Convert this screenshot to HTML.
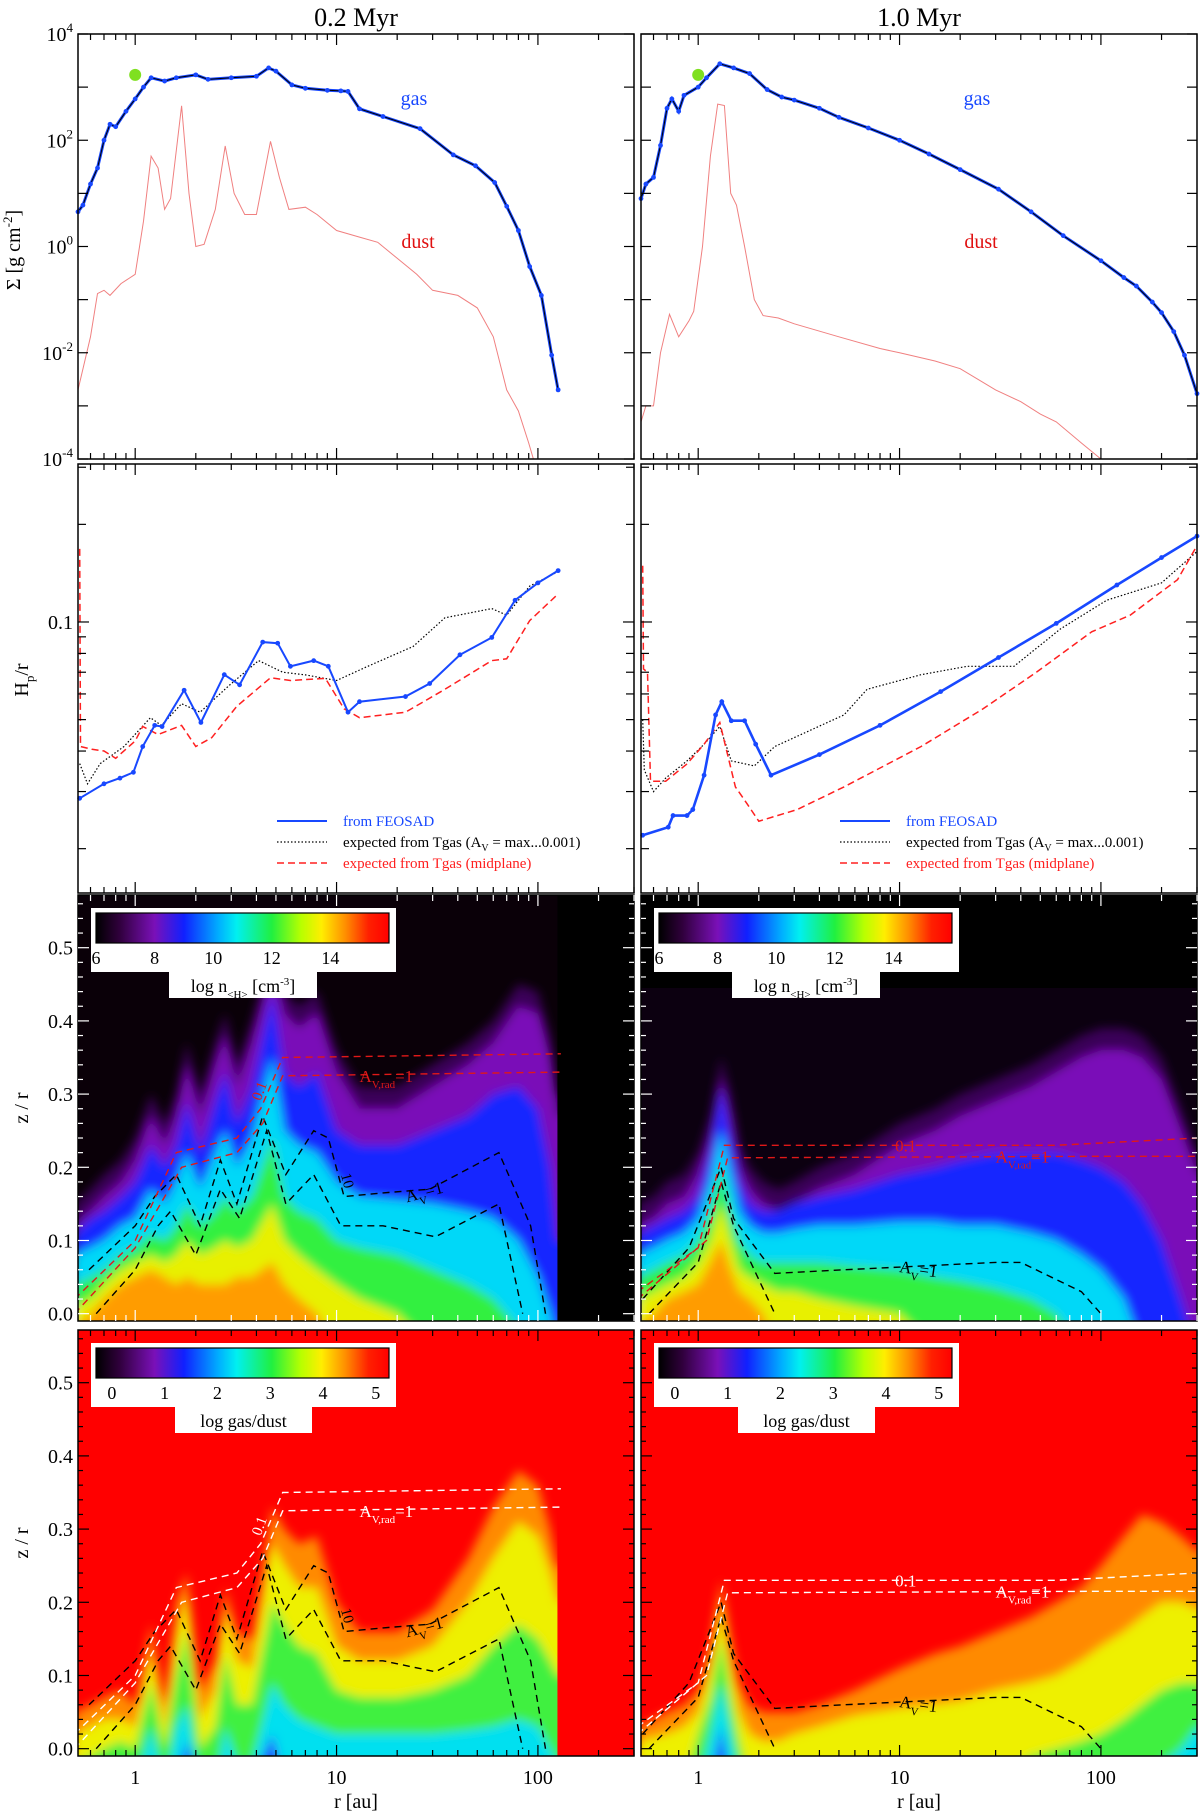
<!DOCTYPE html>
<html><head><meta charset="utf-8"><style>
html,body{margin:0;padding:0;background:#fff;}
svg{display:block;font-family:"Liberation Serif",serif;}
</style></head><body>
<svg id="fig" width="1200" height="1812" viewBox="0 0 1200 1812" xmlns="http://www.w3.org/2000/svg">
<defs>
<filter id="blur" x="-10%" y="-10%" width="120%" height="120%"><feGaussianBlur stdDeviation="5"/></filter>
<linearGradient id="cmap" x1="0" x2="1" y1="0" y2="0">
<stop offset="0" stop-color="#000000"/><stop offset="0.08" stop-color="#30003c"/><stop offset="0.2" stop-color="#7a10b8"/>
<stop offset="0.3" stop-color="#1020ff"/><stop offset="0.42" stop-color="#00b0ff"/><stop offset="0.48" stop-color="#00f0f0"/>
<stop offset="0.6" stop-color="#20f040"/><stop offset="0.7" stop-color="#b8ff00"/><stop offset="0.77" stop-color="#ffee00"/>
<stop offset="0.85" stop-color="#ff9000"/><stop offset="0.93" stop-color="#ff2000"/><stop offset="1" stop-color="#ff0000"/>
</linearGradient>
<clipPath id="cL3"><rect x="78" y="895" width="556" height="426"/></clipPath>
<clipPath id="cR3"><rect x="641" y="895" width="556" height="426"/></clipPath>
<clipPath id="cL4"><rect x="78" y="1330" width="556" height="426"/></clipPath>
<clipPath id="cR4"><rect x="641" y="1330" width="556" height="426"/></clipPath>
<clipPath id="cL1"><rect x="78" y="34" width="556" height="425"/></clipPath>
<clipPath id="cR1"><rect x="641" y="34" width="556" height="425"/></clipPath>
<clipPath id="cL2"><rect x="78" y="464" width="556" height="429"/></clipPath>
<clipPath id="cR2"><rect x="641" y="464" width="556" height="429"/></clipPath>
</defs>
<text x="356" y="26" font-size="26" text-anchor="middle">0.2 Myr</text>
<text x="919" y="26" font-size="26" text-anchor="middle">1.0 Myr</text>
</svg>
<script>
// ---------- row 1 : surface density ----------
const gasL_r=[0.52,0.55,0.6,0.65,0.7,0.75,0.8,0.9,1.0,1.1,1.2,1.4,1.6,2.0,2.3,3.0,4.0,4.6,5.0,6.0,7.0,9.0,10.5,11.4,13,17,26,38,49,61,70,80,91,104,117,126];
const gasL_s=[4.5,6,15,30,100,200,180,350,600,1000,1500,1300,1500,1700,1400,1500,1600,2300,2000,1100,950,870,850,830,390,280,165,53,33,16,5.7,2,0.42,0.12,0.009,0.002];
const dustL_r=[0.52,0.6,0.65,0.7,0.75,0.85,1.0,1.1,1.2,1.3,1.4,1.5,1.7,1.85,2.0,2.2,2.5,2.8,3.1,3.5,4.0,4.7,5.2,5.8,7,8,10,13,16,20,25,30,40,50,60,70,80,90,95];
const dustL_s=[0.002,0.02,0.13,0.15,0.12,0.2,0.3,3,50,30,5,8,445,10,1,1.1,5,78,10,4,4,95,20,5,5.5,4,2,1.5,1.2,0.6,0.3,0.15,0.12,0.07,0.02,0.002,0.0008,0.0002,0.0001];
const gasR_r=[0.52,0.55,0.6,0.65,0.7,0.74,0.8,0.85,1.0,1.1,1.28,1.5,1.8,2.2,2.6,3,4,5,7,10,14,20,31,45,65,100,130,150,180,200,230,260,300];
const gasR_s=[8,15,20,80,400,600,350,700,1000,1500,2750,2300,1800,900,650,570,400,270,170,100,55,28,12,4.5,1.6,0.54,0.26,0.18,0.09,0.057,0.025,0.009,0.0017];
const dustR_r=[0.52,0.55,0.6,0.65,0.72,0.8,0.9,0.95,1.05,1.15,1.25,1.35,1.45,1.55,1.7,1.9,2.1,2.5,3,5,8,10,15,20,30,40,50,60,80,100];
const dustR_s=[0.0005,0.001,0.001,0.01,0.053,0.02,0.04,0.06,1,50,480,450,10,6,1,0.1,0.05,0.045,0.035,0.02,0.012,0.01,0.007,0.005,0.002,0.0012,0.0007,0.0005,0.0002,0.0001];
const ymarker_r=[1.0], ymarker_s=[1700];
// ---------- row 2 : Hp/r ----------
const hpL_r=[0.53,0.70,0.84,0.98,1.09,1.25,1.36,1.75,2.12,2.77,3.3,4.3,5.1,5.9,7.7,9.1,11.4,13,22,29,41,59,77,100,126];
const hpL_v=[0.0286,0.0317,0.033,0.0344,0.0413,0.048,0.0476,0.0616,0.049,0.0688,0.064,0.0867,0.086,0.073,0.076,0.073,0.0527,0.0568,0.0589,0.0646,0.0792,0.0896,0.1167,0.132,0.144];
const tgL_r=[0.53,0.58,0.67,0.88,1.19,1.35,1.7,2.1,2.9,4.1,5.4,7,10,14.3,24,34.5,59,70,91,126];
const tgL_v=[0.0366,0.0317,0.0366,0.0413,0.0507,0.048,0.056,0.0527,0.0634,0.076,0.070,0.0687,0.066,0.073,0.084,0.103,0.11,0.105,0.129,0.143];
const tmL_r=[0.53,0.535,0.61,0.7,0.8,1.0,1.09,1.3,1.7,2.0,2.4,3.2,4.7,5.9,8.8,10.9,13,22,34.5,59,70,91,126];
const tmL_v=[0.168,0.0413,0.0405,0.040,0.038,0.043,0.0476,0.045,0.048,0.0413,0.044,0.055,0.0673,0.066,0.067,0.054,0.0507,0.0527,0.062,0.076,0.077,0.101,0.122];
const hpR_r=[0.53,0.71,0.75,0.88,0.94,1.07,1.22,1.31,1.46,1.7,1.93,2.3,4,8,16,31,60,120,200,300];
const hpR_v=[0.022,0.0233,0.0253,0.0253,0.0264,0.0337,0.0517,0.0568,0.0496,0.0496,0.042,0.0337,0.039,0.048,0.061,0.0777,0.099,0.13,0.158,0.184];
const tgR_r=[0.53,0.54,0.6,0.69,0.88,1.07,1.28,1.46,1.9,2.4,5.3,6.9,12.8,21.7,37,63,107,200,300];
const tgR_v=[0.05,0.035,0.030,0.033,0.0373,0.042,0.0476,0.0373,0.036,0.0413,0.0517,0.062,0.0688,0.073,0.073,0.0952,0.1167,0.132,0.165];
const tmR_r=[0.53,0.535,0.56,0.58,0.69,0.88,1.07,1.28,1.53,1.75,2.0,3.1,5.3,12.8,26,48,90,140,240,300];
const tmR_v=[0.149,0.0716,0.070,0.0323,0.0323,0.0365,0.042,0.049,0.031,0.0275,0.0243,0.0264,0.031,0.0413,0.054,0.0701,0.0933,0.105,0.135,0.172];
// ---------- rows 3/4 : 2D maps (contour-level heights z/r) ----------
const gridL=[0.5,0.6,0.7,0.85,1,1.2,1.4,1.6,1.8,2.1,2.5,2.8,3.2,3.8,4.8,5.5,6.5,8,10,13,20,30,45,60,80,100,115,125];
const nL_env=[0.15,0.17,0.19,0.21,0.24,0.30,0.26,0.30,0.37,0.30,0.37,0.41,0.34,0.40,0.50,0.44,0.42,0.44,0.36,0.31,0.31,0.34,0.37,0.40,0.45,0.44,0.38,0.30];
const nL_blue=[0.11,0.13,0.14,0.16,0.18,0.23,0.2,0.23,0.29,0.22,0.29,0.33,0.26,0.31,0.44,0.33,0.31,0.33,0.25,0.23,0.23,0.25,0.27,0.3,0.31,0.28,0.2,0.1];
const nL_cyan=[0.08,0.09,0.10,0.12,0.13,0.17,0.15,0.18,0.22,0.17,0.22,0.25,0.2,0.24,0.35,0.25,0.23,0.22,0.18,0.16,0.155,0.15,0.14,0.13,0.1,0.05,0.0,-0.05];
const nL_green=[0.04,0.05,0.06,0.08,0.09,0.11,0.1,0.12,0.15,0.12,0.14,0.16,0.14,0.16,0.24,0.16,0.14,0.13,0.1,0.09,0.08,0.06,0.04,0.02,-0.02,-0.05,-0.05,-0.05];
const nL_yellow=[0.01,0.02,0.04,0.06,0.07,0.08,0.07,0.08,0.1,0.08,0.09,0.1,0.09,0.1,0.15,0.1,0.08,0.06,0.04,0.02,0.0,-0.05,-0.05,-0.05,-0.05,-0.05,-0.05,-0.05];
const nL_orange=[-0.02,0.0,0.02,0.04,0.05,0.06,0.05,0.04,0.05,0.04,0.04,0.04,0.05,0.05,0.07,0.04,0.02,0.0,-0.05,-0.05,-0.05,-0.05,-0.05,-0.05,-0.05,-0.05,-0.05,-0.05];
const gridR=[0.5,0.6,0.7,0.85,1,1.15,1.3,1.45,1.6,1.8,2.1,2.5,3,4,6,10,15,20,30,45,60,80,100,130,160,200,250,300];
const nR_env=[0.15,0.16,0.18,0.19,0.22,0.27,0.35,0.3,0.23,0.2,0.18,0.17,0.18,0.2,0.22,0.26,0.28,0.3,0.32,0.34,0.36,0.38,0.39,0.39,0.38,0.35,0.28,0.22];
const nR_blue=[0.11,0.12,0.13,0.14,0.16,0.22,0.31,0.24,0.18,0.15,0.14,0.14,0.15,0.16,0.17,0.19,0.2,0.21,0.22,0.22,0.22,0.21,0.2,0.18,0.15,0.1,0.02,-0.05];
const nR_cyan=[0.08,0.09,0.1,0.11,0.13,0.18,0.25,0.19,0.14,0.12,0.11,0.11,0.115,0.12,0.12,0.125,0.125,0.12,0.12,0.11,0.1,0.08,0.06,0.02,-0.05,-0.05,-0.05,-0.05];
const nR_green=[0.05,0.06,0.07,0.08,0.1,0.14,0.2,0.14,0.1,0.08,0.07,0.07,0.07,0.07,0.065,0.06,0.05,0.045,0.035,0.02,0.0,-0.05,-0.05,-0.05,-0.05,-0.05,-0.05,-0.05];
const nR_yellow=[0.02,0.03,0.04,0.05,0.07,0.1,0.15,0.1,0.06,0.05,0.04,0.03,0.03,0.02,0.01,0.0,-0.05,-0.05,-0.05,-0.05,-0.05,-0.05,-0.05,-0.05,-0.05,-0.05,-0.05,-0.05];
const nR_orange=[-0.02,0.0,0.02,0.03,0.04,0.07,0.1,0.06,0.03,0.02,0.0,-0.05,-0.05,-0.05,-0.05,-0.05,-0.05,-0.05,-0.05,-0.05,-0.05,-0.05,-0.05,-0.05,-0.05,-0.05,-0.05,-0.05];
const gL_orange=[0.05,0.06,0.07,0.08,0.06,0.17,0.06,0.2,0.24,0.08,0.12,0.22,0.16,0.15,0.33,0.3,0.28,0.29,0.2,0.16,0.16,0.19,0.26,0.33,0.38,0.36,0.3,0.25];
const gL_yellow=[0.02,0.03,0.04,0.04,0.03,0.13,0.03,0.15,0.21,0.04,0.08,0.19,0.12,0.11,0.28,0.25,0.22,0.22,0.14,0.12,0.12,0.14,0.2,0.26,0.31,0.29,0.24,0.2];
const gL_green=[-0.02,-0.01,0.0,0.01,0.0,0.09,0.0,0.1,0.16,0.0,0.03,0.13,0.06,0.06,0.2,0.17,0.14,0.13,0.08,0.07,0.07,0.08,0.1,0.14,0.17,0.15,0.12,0.1];
const gL_cyan=[-0.05,-0.05,-0.05,-0.05,-0.05,0.03,-0.05,0.03,0.06,-0.05,-0.05,0.03,-0.02,-0.02,0.09,0.06,0.04,0.03,0.02,0.02,0.02,0.02,0.025,0.03,0.04,0.03,0.0,-0.02];
const gL_blue=[-0.05,-0.05,-0.05,-0.05,-0.05,-0.05,-0.05,-0.05,0.01,-0.05,-0.05,-0.05,-0.05,-0.05,0.02,-0.05,-0.05,-0.05,-0.05,-0.05,-0.05,-0.05,-0.05,-0.05,-0.05,-0.05,-0.05,-0.05];
const gR_orange=[0.03,0.04,0.05,0.06,0.08,0.14,0.23,0.15,0.09,0.06,0.05,0.05,0.05,0.06,0.08,0.11,0.13,0.14,0.16,0.18,0.2,0.22,0.25,0.29,0.32,0.31,0.29,0.27];
const gR_yellow=[0.01,0.015,0.02,0.03,0.05,0.11,0.2,0.11,0.05,0.02,0.01,0.01,0.02,0.03,0.045,0.055,0.06,0.065,0.08,0.09,0.1,0.12,0.14,0.16,0.18,0.2,0.2,0.19];
const gR_green=[-0.05,-0.05,-0.05,-0.05,0.02,0.07,0.15,0.07,0.01,-0.05,-0.05,-0.05,-0.05,-0.05,-0.05,-0.05,-0.05,-0.05,-0.04,-0.01,0.0,0.01,0.02,0.04,0.06,0.08,0.09,0.09];
const gR_cyan=[-0.05,-0.05,-0.05,-0.05,-0.05,0.02,0.09,0.02,-0.05,-0.05,-0.05,-0.05,-0.05,-0.05,-0.05,-0.05,-0.05,-0.05,-0.05,-0.05,-0.05,-0.05,-0.05,-0.05,-0.05,-0.02,0.0,0.03];
const gR_blue=[-0.05,-0.05,-0.05,-0.05,-0.05,-0.05,0.03,-0.05,-0.05,-0.05,-0.05,-0.05,-0.05,-0.05,-0.05,-0.05,-0.05,-0.05,-0.05,-0.05,-0.05,-0.05,-0.05,-0.05,-0.05,-0.05,-0.05,-0.05];
// contour lines
const cL_av1_r=[0.59,1,1.25,1.6,2.1,2.65,3.2,4.3,5.6,7.7,9.1,10.9,17,29,64,92,109];
const cL_av1_z=[0.06,0.12,0.16,0.19,0.12,0.21,0.15,0.27,0.19,0.25,0.24,0.16,0.165,0.17,0.22,0.12,0.0];
const cL_av10_r=[0.64,1,1.3,1.5,2,2.65,3.3,4.5,5.6,7.7,10.5,17,31,64,84];
const cL_av10_z=[0.0,0.06,0.12,0.14,0.08,0.17,0.13,0.25,0.15,0.19,0.12,0.12,0.105,0.15,0.0];
const cL_red01_r=[0.5,1,1.6,3.2,4.2,5.4,130];
const cL_red01_z=[0.02,0.1,0.22,0.24,0.28,0.35,0.355];
const cL_redav_r=[0.5,1,1.7,3.2,4.3,5.4,130];
const cL_redav_z=[0.0,0.09,0.2,0.22,0.26,0.325,0.33];
const cR_av1_r=[0.53,0.9,1.3,1.5,2.4,5.3,30,40,80,100];
const cR_av1_z=[0.02,0.09,0.2,0.13,0.055,0.06,0.07,0.07,0.03,0.0];
const cR_av10_r=[0.57,1.0,1.3,1.5,2.4];
const cR_av10_z=[0.0,0.07,0.18,0.12,0.0];
const cR_01_r=[0.5,1.0,1.35,60,300];
const cR_01_z=[0.03,0.09,0.23,0.23,0.24];
const cR_av_r=[0.5,1.1,1.4,100,300];
const cR_av_z=[0.02,0.1,0.213,0.215,0.215];

const NS='http://www.w3.org/2000/svg';
const svg=document.getElementById('fig');
function el(t,a,p){const e=document.createElementNS(NS,t);for(const k in a)e.setAttribute(k,a[k]);(p||svg).appendChild(e);return e;}
const R0=Math.log10(0.52),R1=Math.log10(300);
const PL={x0:78,x1:634},PR={x0:641,x1:1197};
function X(p,r){return p.x0+(Math.log10(r)-R0)/(R1-R0)*(p.x1-p.x0);}
const yS=v=>34+(4-Math.log10(v))/8*425;
const HT=Math.log10(0.307),HB=Math.log10(0.0146);
const yH=v=>464+(HT-Math.log10(v))/(HT-HB)*429;
const yZ3=z=>895+(0.572-z)/0.582*426;
const yZ4=z=>1330+(0.572-z)/0.582*426;
function pts(p,rs,vs,fy){return rs.map((r,i)=>X(p,r).toFixed(1)+','+fy(vs[i]).toFixed(1)).join(' ');}

// ---- heatmaps ----
function layer(g,p,grid,zs,fy,color,name){
  let s=X(p,grid[0]-0.05)+','+fy(-0.1)+' '+pts(p,grid,zs,fy)+' '+(X(p,grid[grid.length-1])+15)+','+fy(zs[zs.length-1])+' '+(X(p,grid[grid.length-1])+15)+','+fy(-0.1);
  const e=el('polygon',{points:s,fill:color},g);
  
  
}
function heat(p,clip,base,fy,grid,levels,names){
  const g0=el('g',{'clip-path':'url(#'+clip+')'});
  
  
  el('rect',{x:p.x0,y:fy(0.6),width:p.x1-p.x0,height:fy(-0.05)-fy(0.6),fill:base},g0);
  const g=el('g',{filter:'url(#blur)'},g0);
  levels.forEach((lv,i)=>layer(g,p,grid,lv[0],fy,lv[1],names[i]));
  return g0;
}
const h3L=heat(PL,'cL3','#0a0008',yZ3,gridL,[[nL_env,'#3a0058'],[nL_env.map(z=>z-0.03),'#7a10b8'],[nL_blue,'#1428ff'],[nL_cyan,'#00d8f8'],[nL_green,'#30f040'],[nL_yellow,'#e8f000'],[nL_orange,'#ff9c00']],['dens-envelope','dens-purple','dens-blue','dens-cyan','dens-green','dens-yellow','dens-orange']);
el('rect',{x:X(PL,125),y:895,width:634-X(PL,125),height:426,fill:'#000'},h3L);
const h3R=heat(PR,'cR3','#0c0010',yZ3,gridR,[[nR_env,'#3a0058'],[nR_env.map(z=>z-0.03),'#7a10b8'],[nR_blue,'#1428ff'],[nR_cyan,'#00d8f8'],[nR_green,'#30f040'],[nR_yellow,'#e8f000'],[nR_orange,'#ff9c00']],['dens-envelope','dens-purple','dens-blue','dens-cyan','dens-green','dens-yellow','dens-orange']);
el('rect',{x:641,y:895,width:556,height:yZ3(0.445)-895,fill:'#000'},h3R);
const h4L=heat(PL,'cL4','#ff0000',yZ4,gridL,[[gL_orange,'#ff8a00'],[gL_yellow,'#eef000'],[gL_green,'#40f040'],[gL_cyan,'#00e0f0'],[gL_blue,'#2030ff']],['gd-orange','gd-yellow','gd-green','gd-cyan','gd-blue']);
el('rect',{x:X(PL,125),y:1330,width:634-X(PL,125),height:426,fill:'#ff0000'},h4L);
heat(PR,'cR4','#ff0000',yZ4,gridR,[[gR_orange,'#ff8a00'],[gR_yellow,'#eef000'],[gR_green,'#40f040'],[gR_cyan,'#00e0f0'],[gR_blue,'#2030ff']],['gd-orange','gd-yellow','gd-green','gd-cyan','gd-blue']);

// contours
function cline(p,clip,rs,zs,fy,col,name){
  const e=el('polyline',{points:pts(p,rs,zs,fy),fill:'none',stroke:col,'stroke-width':1.4,'stroke-dasharray':'7,5','clip-path':'url(#'+clip+')'});
  
  
}
[['cL3',yZ3,'#e01818'],['cL4',yZ4,'#ffffff']].forEach(([c,fy,col])=>{
  cline(PL,c,cL_av1_r,cL_av1_z,fy,'#000','contour-av-1');
  cline(PL,c,cL_av10_r,cL_av10_z,fy,'#000','contour-av-10');
  cline(PL,c,cL_red01_r,cL_red01_z,fy,col,'contour-avrad-0.1');
  cline(PL,c,cL_redav_r,cL_redav_z,fy,col,'contour-avrad-1');
  const t=el('text',{x:X(PL,4.2),y:fy(0.29),'font-size':15,fill:col,transform:'rotate(-70 '+X(PL,4.2)+' '+fy(0.29)+')'});t.textContent='0.1';
  const t2=el('text',{x:X(PL,13),y:fy(0.325)+6,'font-size':17,fill:col});t2.innerHTML='A<tspan font-size="11" dy="6">V,rad</tspan><tspan dy="-6">=1</tspan>';
  const t3=el('text',{x:X(PL,22),y:fy(0.16)+6,'font-size':17,fill:'#000',transform:'rotate(-15 '+X(PL,22)+' '+fy(0.16)+')'});t3.innerHTML='A<tspan font-size="11" dy="6">V</tspan><tspan dy="-6">=1</tspan>';
  const t4=el('text',{x:X(PL,10.5),y:fy(0.19),'font-size':15,fill:'#000',transform:'rotate(75 '+X(PL,10.5)+' '+fy(0.19)+')'});t4.textContent='10';
});
[['cR3',yZ3,'#e01818'],['cR4',yZ4,'#ffffff']].forEach(([c,fy,col])=>{
  cline(PR,c,cR_av1_r,cR_av1_z,fy,'#000','contour-av-1');
  cline(PR,c,cR_av10_r,cR_av10_z,fy,'#000','contour-av-10');
  cline(PR,c,cR_01_r,cR_01_z,fy,col,'contour-avrad-0.1');
  cline(PR,c,cR_av_r,cR_av_z,fy,col,'contour-avrad-1');
  const t=el('text',{x:X(PR,9.5),y:fy(0.23)+6,'font-size':17,fill:col});t.textContent='0.1';
  const t2=el('text',{x:X(PR,30),y:fy(0.215)+6,'font-size':17,fill:col});t2.innerHTML='A<tspan font-size="11" dy="6">V,rad</tspan><tspan dy="-6">=1</tspan>';
  const t3=el('text',{x:X(PR,10),y:fy(0.065)+6,'font-size':17,fill:'#000',transform:'rotate(8 '+X(PR,10)+' '+fy(0.065)+')'});t3.innerHTML='A<tspan font-size="11" dy="6">V</tspan><tspan dy="-6">=1</tspan>';
});

// colorbars
function cbar(x0,y0,labels,v0,v1,unitHTML,subX,subW,name){
  const g=el('g',{});
  
  
  el('rect',{x:x0,y:y0,width:305,height:64,fill:'#fff'},g);
  el('rect',{x:x0+subX,y:y0+63,width:subW,height:27,fill:'#fff'},g);
  el('rect',{x:x0+5,y:y0+5,width:293,height:30,fill:'url(#cmap)',stroke:'#000','stroke-width':1.2},g);
  labels.forEach(v=>{const xx=x0+5+(v-v0)/(v1-v0)*293;
    const t=el('text',{x:xx,y:y0+56,'font-size':18,'text-anchor':'middle'},g);t.textContent=v;});
  const u=el('text',{x:x0+subX+subW/2,y:y0+84,'font-size':18,'text-anchor':'middle'},g);u.innerHTML=unitHTML;
}
cbar(91,908,[6,8,10,12,14],6,16,'log n<tspan font-size="11" dy="6">&lt;H&gt;</tspan><tspan dy="-6"> [cm</tspan><tspan font-size="11" dy="-7">-3</tspan><tspan dy="7">]</tspan>',78,148,'colorbar-density-left');
cbar(654,908,[6,8,10,12,14],6,16,'log n<tspan font-size="11" dy="6">&lt;H&gt;</tspan><tspan dy="-6"> [cm</tspan><tspan font-size="11" dy="-7">-3</tspan><tspan dy="7">]</tspan>',78,148,'colorbar-density-right');
cbar(91,1343,[0,1,2,3,4,5],-0.3,5.25,'log gas/dust',84,137,'colorbar-gasdust-left');
cbar(654,1343,[0,1,2,3,4,5],-0.3,5.25,'log gas/dust',84,137,'colorbar-gasdust-right');

// ---- row 1 curves ----
function curve(p,clip,rs,vs,fy,col,w,name,dash){
  const a={points:pts(p,rs,vs,fy),fill:'none',stroke:col,'stroke-width':w,'clip-path':'url(#'+clip+')'};
  if(dash)a['stroke-dasharray']=dash;
  const e=el('polyline',a);
  
  
}
function dots(p,rs,vs,fy,name){rs.forEach((r,i)=>{const c=el('circle',{cx:X(p,r),cy:fy(vs[i]),r:2.4,fill:'#1848ff'});
  
  });}
curve(PL,'cL1',dustL_r,dustL_s,yS,'#f08080',1,'dust-curve-left');
curve(PL,'cL1',gasL_r,gasL_s,yS,'#1848ff',3,'gas-curve-left');
curve(PL,'cL1',gasL_r,gasL_s,yS,'#000',1,'gas-line-left');
dots(PL,gasL_r,gasL_s,yS,'gas-point');
curve(PR,'cR1',dustR_r,dustR_s,yS,'#f08080',1,'dust-curve-right');
curve(PR,'cR1',gasR_r,gasR_s,yS,'#1848ff',3,'gas-curve-right');
curve(PR,'cR1',gasR_r,gasR_s,yS,'#000',1,'gas-line-right');
dots(PR,gasR_r,gasR_s,yS,'gas-point');
[PL,PR].forEach(p=>{const c=el('circle',{cx:X(p,ymarker_r[0]),cy:yS(ymarker_s[0]),r:6,fill:'#7fe020'});
  
  });
[[PL,'left'],[PR,'right']].forEach(([p,s])=>{
  const a=el('text',{x:p.x0+336,y:105,'font-size':20,fill:'#1848ff','text-anchor':'middle'});a.textContent='gas';
  
  const b=el('text',{x:p.x0+340,y:248,'font-size':20,fill:'#e01010','text-anchor':'middle'});b.textContent='dust';
  
});
// ---- row 2 curves ----
curve(PL,'cL2',tgL_r,tgL_v,yH,'#000',1.2,'tgas-av-left','1.5,2');
curve(PL,'cL2',tmL_r,tmL_v,yH,'#ff2020',1.5,'tgas-mid-left','7,4');
curve(PL,'cL2',hpL_r,hpL_v,yH,'#1848ff',2,'feosad-left');
dots(PL,hpL_r,hpL_v,yH,'feosad-point');
curve(PR,'cR2',tgR_r,tgR_v,yH,'#000',1.2,'tgas-av-right','1.5,2');
curve(PR,'cR2',tmR_r,tmR_v,yH,'#ff2020',1.5,'tgas-mid-right','7,4');
curve(PR,'cR2',hpR_r,hpR_v,yH,'#1848ff',2.6,'feosad-right');
dots(PR,hpR_r,hpR_v,yH,'feosad-point');
[PL,PR].forEach(p=>{
  const lx=p.x0+199;
  const g=el('g',{});
  el('line',{x1:lx,x2:lx+50,y1:821,y2:821,stroke:'#1848ff','stroke-width':2},g);
  el('line',{x1:lx,x2:lx+50,y1:842,y2:842,stroke:'#000','stroke-width':1.2,'stroke-dasharray':'1.5,2'},g);
  el('line',{x1:lx,x2:lx+50,y1:863,y2:863,stroke:'#ff2020','stroke-width':1.5,'stroke-dasharray':'7,4'},g);
  let t=el('text',{x:lx+66,y:826,'font-size':15,fill:'#1848ff'},g);t.textContent='from FEOSAD';
  t=el('text',{x:lx+66,y:847,'font-size':15,fill:'#000'},g);t.innerHTML='expected from Tgas (A<tspan font-size="10" dy="4">V</tspan><tspan dy="-4"> = max...0.001)</tspan>';
  t=el('text',{x:lx+66,y:868,'font-size':15,fill:'#ff2020'},g);t.textContent='expected from Tgas (midplane)';
});

// ---- frames & ticks ----
const rowsY=[[34,459],[464,893],[895,1321],[1330,1756]];
const xMajor=[1,10,100], xMinor=[];
[0.1,1,10,100].forEach(d=>{for(let k=2;k<=9;k++){const v=d*k;if(v>=0.52&&v<=300)xMinor.push(v);}});
function frame(p,ri,tcol){
  const [y0,y1]=rowsY[ri];
  const g=el('g',{});
  el('rect',{x:p.x0,y:y0,width:p.x1-p.x0,height:y1-y0,fill:'none',stroke:'#000','stroke-width':1.5},g);
  const tk=(x1,y1a,x2,y2)=>el('line',{x1:x1,y1:y1a,x2:x2,y2:y2,stroke:tcol,'stroke-width':1.2},g);
  xMajor.forEach(v=>{const x=X(p,v);tk(x,y1,x,y1-11);tk(x,y0,x,y0+11);});
  xMinor.forEach(v=>{const x=X(p,v);tk(x,y1,x,y1-6);tk(x,y0,x,y0+6);});
  return {g,tk,y0,y1};
}
const labY=(x,y,html)=>{const t=el('text',{x:x,y:y,'font-size':20,'text-anchor':'end'});t.innerHTML=html;return t;};
[PL,PR].forEach((p,pi)=>{
  let f=frame(p,0,'#000');
  for(let e=-4;e<=4;e++){const y=yS(Math.pow(10,e));f.tk(p.x0,y,p.x0+10,y);f.tk(p.x1,y,p.x1-10,y);
    if(pi==0&&e%2==0)labY(p.x0-5,y+7,'10<tspan font-size="13" dy="-9">'+e+'</tspan>');}
  f=frame(p,1,'#000');
  [0.02,0.03,0.04,0.05,0.06,0.07,0.08,0.09,0.1,0.2,0.3].forEach(v=>{const y=yH(v);const L=(v==0.1)?11:8;f.tk(p.x0,y,p.x0+L,y);f.tk(p.x1,y,p.x1-L,y);});
  if(pi==0)labY(p.x0-5,yH(0.1)+7,'0.1');
  [[2,yZ3],[3,yZ4]].forEach(([ri,fy])=>{
    const f2=frame(p,ri,ri==2?'#ffffff':'#000');
    for(let k=0;k<=28;k++){const z=k*0.02;const y=fy(z);const L=(k%5==0)?11:5;f2.tk(p.x0,y,p.x0+L,y);f2.tk(p.x1,y,p.x1-L,y);
      if(pi==0&&k%5==0)labY(p.x0-5,y+7,(z).toFixed(1));}
  });
  xMajor.forEach(v=>{const t=el('text',{x:X(p,v),y:1784,'font-size':20,'text-anchor':'middle'});t.textContent=v;});
  const xl=el('text',{x:(p.x0+p.x1)/2,y:1808,'font-size':20,'text-anchor':'middle'});xl.textContent='r [au]';
  
});
function ylab(x,y,html,name){const t=el('text',{x:x,y:y,'font-size':20,'text-anchor':'middle',transform:'rotate(-90 '+x+' '+y+')'});t.innerHTML=html;
  }
ylab(20,250,'Σ [g cm<tspan font-size="13" dy="-8">-2</tspan><tspan dy="8">]</tspan>','y-axis-title-sigma');
ylab(28,680,'H<tspan font-size="13" dy="6">p</tspan><tspan dy="-6">/r</tspan>','y-axis-title-hp');
ylab(28,1108,'z / r','y-axis-title-z3');
ylab(28,1543,'z / r','y-axis-title-z4');
</script>
</body></html>
